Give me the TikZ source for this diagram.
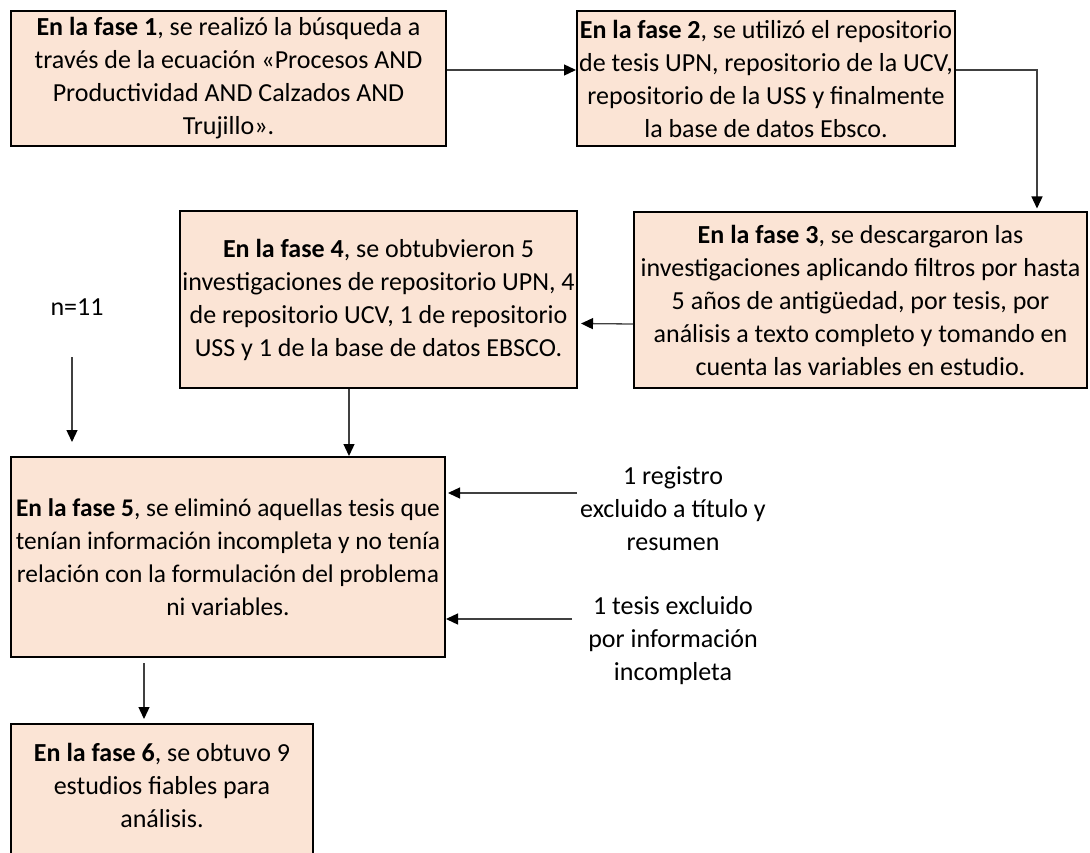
\documentclass[tikz,border=0pt]{standalone}
\usepackage{fontspec}
\setmainfont{Carlito}
\usetikzlibrary{arrows.meta,calc}
\definecolor{boxfill}{HTML}{FBE4D5}
\definecolor{conn}{HTML}{404040}
\begin{document}
\begin{tikzpicture}[x=1pt,y=-1pt,
  box/.style={draw=black, line width=2pt, fill=boxfill, align=center, inner xsep=1.5pt, inner ysep=0pt, font={\fontsize{26}{33}\selectfont}},
  lbl/.style={align=center, inner sep=0pt, font={\fontsize{26}{33}\selectfont}},
  arr/.style={draw=conn, line width=1.3pt, -{Triangle[length=12pt,width=11pt,color=black]}}]
\useasboundingbox (0,0) rectangle (1090,853);
\fill[white] (0,0) rectangle (1090,853);
\clip (0,0) rectangle (1090,853);

\node[box, minimum width=435pt, minimum height=135pt] (f1) at (228.5,78.5)
  {\textbf{En la fase 1}, se realizó la búsqueda a\\ través de la ecuación «Procesos AND\\ Productividad AND Calzados AND\\ Trujillo».};
\node[box, minimum width=378pt, minimum height=135pt] (f2) at (766,78.5)
  {\textbf{En la fase 2}, se utilizó el repositorio\\ de tesis UPN, repositorio de la UCV,\\ repositorio de la USS y finalmente\\ la base de datos Ebsco.};
\node[box, minimum width=453pt, minimum height=175pt] (f3) at (860.5,300)
  {\textbf{En la fase 3}, se descargaron las\\ investigaciones aplicando filtros por hasta\\ 5 años de antigüedad, por tesis, por\\ análisis a texto completo y tomando en\\ cuenta las variables en estudio.};
\node[box, minimum width=397pt, minimum height=176pt] (f4) at (378.5,299.5)
  {\textbf{En la fase 4}, se obtubvieron 5\\ investigaciones de repositorio UPN, 4\\ de repositorio UCV, 1 de repositorio\\ USS y 1 de la base de datos EBSCO.};
\node[box, minimum width=434pt, minimum height=200pt, inner xsep=0.5pt, font={\fontsize{25.4}{33}\selectfont}] (f5) at (228,557)
  {\textbf{En la fase 5}, se eliminó aquellas tesis que\\ tenían información incompleta y no tenía\\ relación con la formulación del problema\\ ni variables.};
\node[box, anchor=north, minimum width=302pt, inner ysep=19pt] (f6) at (162,723)
  {\textbf{En la fase 6}, se obtuvo 9\\ estudios fiables para\\ análisis.\\ \mbox{}};

\node[lbl] (n11) at (77,307) {n=11};
\node[lbl] (reg) at (673,508.5) {1 registro\\ excluido a título y\\ resumen};
\node[lbl] (tes) at (673,641) {1 tesis excluido\\ por información\\ incompleta};

\draw[arr] ([yshift=8.5pt]f1.east) -- ([yshift=8.5pt]f2.west);
\draw[arr, shorten >=3pt] ([yshift=8.5pt]f2.east) -| ([xshift=176.5pt]f3.north);
\draw[arr, shorten >=3pt] ([yshift=-24pt]f3.west) -- ([yshift=-24pt]f4.east);
\draw[arr] ([xshift=-29.5pt]f4.south) -- ([xshift=-29.5pt]f4.south |- f5.north);
\coordinate (n11s) at (72,357);
\draw[arr, shorten >=14pt] (n11s) -- (n11s |- f5.north);
\coordinate (r1) at ([shift={(-3pt,15.5pt)}]reg.west);
\draw[arr, shorten >=2pt] (r1) -- (r1 -| f5.east);
\coordinate (t1) at ([shift={(-16pt,22pt)}]tes.west);
\draw[arr] (t1) -- (t1 -| f5.east);
\draw[arr, shorten <=5pt, shorten >=4pt] ([xshift=-84pt]f5.south) -- ([xshift=-84pt]f5.south |- f6.north);
\end{tikzpicture}
\end{document}
